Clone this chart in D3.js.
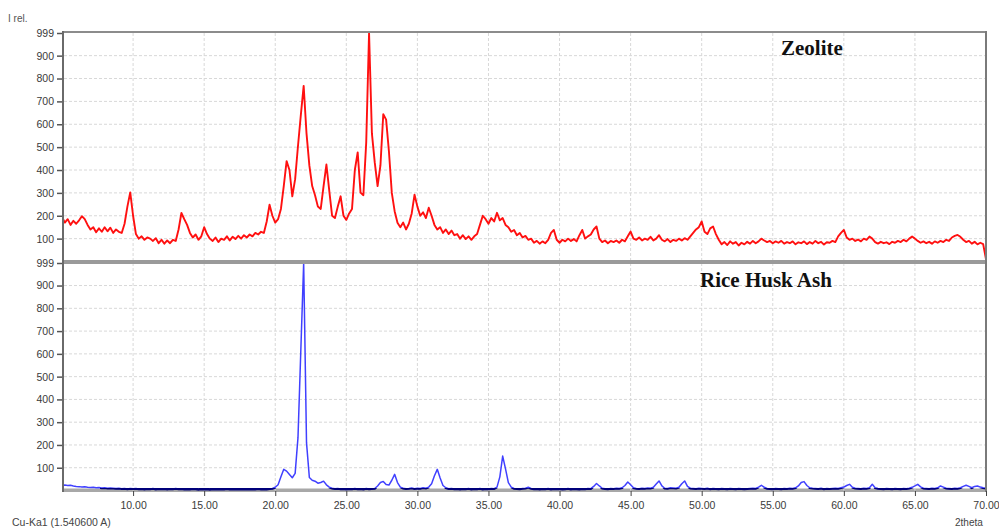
<!DOCTYPE html>
<html>
<head>
<meta charset="utf-8">
<script src="https://d3js.org/d3.v7.min.js"></script>
<style>
  body { margin: 0; background: #fff; }
  svg text { font-family: "Liberation Sans", Arial, sans-serif; }
</style>
</head>
<body>
<svg id="chart" width="999" height="528"></svg>
<script>
// 2theta grid of both scans: start, step (degrees)
var thetaStart = 5.0
var thetaStep = 0.2

// Zeolite, I rel. (one row per degree: N.0 N.2 N.4 N.6 N.8)
var zeolite = [
  195,170,185,160,178,   // 5
  165,180,198,185,160,   // 6
  140,150,128,145,130,   // 7
  150,132,148,125,140,   // 8
  130,125,165,240,302,   // 9
  200,120,100,110,95,    // 10
  105,100,90,102,80,     // 11
  95,78,92,80,95,        // 12
  90,140,212,185,160,    // 13
  125,105,118,95,110,    // 14
  150,120,100,90,105,    // 15
  85,100,95,110,92,      // 16
  108,98,112,100,115,    // 17
  105,118,110,125,118,   // 18
  130,125,175,248,200,   // 19
  170,185,230,330,439,   // 20
  400,285,360,505,640,   // 21
  768,560,420,330,290,   // 22
  240,230,330,424,310,   // 23
  200,190,240,285,200,   // 24
  182,210,230,400,477,   // 25
  301,290,520,999,560,   // 26
  433,330,420,644,620,   // 27
  480,300,220,169,150,   // 28
  170,140,165,210,292,   // 29
  240,200,215,190,235,   // 30
  200,160,140,150,125,   // 31
  140,120,135,115,120,   // 32
  100,115,98,110,95,     // 33
  110,120,160,200,185,   // 34
  165,190,175,213,180,   // 35
  190,160,150,130,138,   // 36
  115,125,105,112,95,    // 37
  100,82,90,78,88,       // 38
  80,95,125,138,95,      // 39
  82,95,88,100,90,       // 40
  98,88,115,138,100,     // 41
  110,118,140,153,100,   // 42
  85,92,80,90,85,        // 43
  92,82,95,88,110,       // 44
  131,100,95,105,92,     // 45
  100,95,108,92,100,     // 46
  115,95,88,98,85,       // 47
  95,90,100,92,102,      // 48
  95,110,125,140,150,    // 49
  175,130,120,145,153,   // 50
  120,95,75,85,72,       // 51
  88,78,85,70,82,        // 52
  75,86,78,90,80,        // 53
  88,100,92,85,90,       // 54
  80,88,82,90,78,        // 55
  85,80,88,75,84,        // 56
  80,88,76,85,78,        // 57
  90,80,86,74,84,        // 58
  82,90,85,110,125,      // 59
  138,105,95,100,90,     // 60
  96,88,100,95,109,      // 61
  100,85,78,86,80,       // 62
  84,76,86,82,90,        // 63
  85,95,88,100,109,      // 64
  100,90,82,88,80,       // 65
  86,78,88,82,90,        // 66
  85,95,90,105,112,      // 67
  116,108,95,85,90,      // 68
  78,86,75,82,76,        // 69
  10                     // 70
]

// Rice Husk Ash, I rel.
var riceHuskAsh = [
  20,24,22,23,20,        // 5
  18,17,15,16,14,        // 6
  13,14,12,13,11,        // 7
  12,10,11,10,9,         // 8
  10,8,9,7,9,            // 9
  8,9,7,8,6,             // 10
  8,7,9,6,8,             // 11
  7,8,6,8,7,             // 12
  9,7,8,6,7,             // 13
  6,8,7,5,7,             // 14
  6,7,5,7,6,             // 15
  7,5,6,8,6,             // 16
  5,7,6,5,7,             // 17
  6,5,7,6,8,             // 18
  6,7,6,8,9,             // 19
  14,25,60,93,85,        // 20
  70,56,75,232,616,      // 21
  999,210,57,45,41,      // 22
  32,35,41,25,15,        // 23
  10,8,9,7,8,            // 24
  6,8,7,9,7,             // 25
  8,6,9,7,8,             // 26
  9,20,35,40,26,         // 27
  24,45,71,35,15,        // 28
  10,8,9,11,8,           // 29
  10,9,12,10,15,         // 30
  30,65,93,55,22,        // 31
  12,8,9,7,8,            // 32
  6,8,7,9,6,             // 33
  8,7,9,6,8,             // 34
  7,9,8,15,60,           // 35
  151,95,35,15,9,        // 36
  8,7,9,10,14,           // 37
  9,7,8,6,8,             // 38
  7,9,6,8,7,             // 39
  8,6,7,9,6,             // 40
  8,7,6,8,7,             // 41
  9,8,18,31,20,          // 42
  10,8,7,9,8,            // 43
  10,9,12,22,37,         // 44
  25,12,9,8,10,          // 45
  9,11,10,14,28,         // 46
  42,20,10,9,12,         // 47
  11,10,14,30,42,        // 48
  18,10,9,8,10,          // 49
  9,8,10,7,9,            // 50
  8,7,9,8,7,             // 51
  9,8,7,9,8,             // 52
  7,8,9,10,9,            // 53
  15,23,14,9,8,          // 54
  7,9,8,7,9,             // 55
  8,10,9,12,20,          // 56
  35,39,22,12,10,        // 57
  9,8,10,7,9,            // 58
  8,9,10,9,12,           // 59
  15,22,27,14,10,        // 60
  9,8,10,9,12,           // 61
  27,12,9,8,7,           // 62
  9,8,7,9,8,             // 63
  7,9,8,10,14,           // 64
  20,27,16,10,9,         // 65
  8,10,9,12,20,          // 66
  15,10,9,8,10,          // 67
  9,12,18,23,18,         // 68
  12,18,20,15,12,        // 69
  10                     // 70
]

var xTicks = [10, 15, 20, 25, 30, 35, 40, 45, 50, 55, 60, 65, 70]
var yTicks = [100, 200, 300, 400, 500, 600, 700, 800, 900]
var yMax = 999

var svg = d3.select('#chart')

var x = d3.scaleLinear().domain([5.07, 70]).range([63, 986])
var yTop = d3.scaleLinear().domain([0, yMax]).range([261.5, 33])
var yBot = d3.scaleLinear().domain([0, yMax]).range([490.5, 263])

function toPoints(values) {
  return values.map(function(v, i) {
    return { t: thetaStart + i * thetaStep, v: v }
  })
}

// x axis of the bottom panel (grey band), under the scan
svg.append('rect')
  .attr('x', 63).attr('y', 488.5)
  .attr('width', 923).attr('height', 3.5)
  .attr('fill', '#a8a8a8')

function drawPanel(y, id) {
  var g = svg.append('g')

  // dashed grid
  g.selectAll('line.hgrid')
    .data(yTicks)
    .enter()
    .append('line')
    .attr('x1', 64).attr('x2', 985)
    .attr('y1', function(d) { return y(d) })
    .attr('y2', function(d) { return y(d) })
    .attr('stroke', '#d8d8d8')
    .attr('stroke-dasharray', '3,2')

  g.selectAll('line.vgrid')
    .data(xTicks.slice(0, -1))
    .enter()
    .append('line')
    .attr('x1', function(d) { return x(d) })
    .attr('x2', function(d) { return x(d) })
    .attr('y1', y(yMax)).attr('y2', y(0))
    .attr('stroke', '#d8d8d8')
    .attr('stroke-dasharray', '3,2')

  // y axis
  var axis = d3.axisLeft(y)
    .tickValues(yTicks.concat([yMax]))
    .tickSize(6)
    .tickPadding(3)
    .tickFormat(d3.format('d'))
  var ag = g.append('g')
    .attr('transform', 'translate(63,0)')
    .call(axis)
  ag.select('.domain').remove()
  ag.selectAll('line').attr('stroke', '#555').attr('stroke-width', 1.5)
  ag.selectAll('text')
    .attr('fill', '#3a3a3a')
    .style('font-size', '10.5px')
    .style('font-family', '"Liberation Sans", Arial, sans-serif')

  svg.append('clipPath').attr('id', id)
    .append('rect')
    .attr('x', 63).attr('y', y(yMax) - 2)
    .attr('width', 923).attr('height', y(0) - y(yMax) + 2)
  return g
}

var gTop = drawPanel(yTop, 'clipTop')
var gBot = drawPanel(yBot, 'clipBot')

var line = function(y) {
  return d3.line()
    .x(function(d) { return x(d.t) })
    .y(function(d) { return y(d.v) })
}

gTop.append('path')
  .datum(toPoints(zeolite))
  .attr('clip-path', 'url(#clipTop)')
  .attr('d', line(yTop))
  .attr('fill', 'none')
  .attr('stroke', '#ff1010')
  .attr('stroke-width', 1.9)
  .attr('stroke-linejoin', 'round')

gBot.append('path')
  .datum(toPoints(riceHuskAsh))
  .attr('clip-path', 'url(#clipBot)')
  .attr('d', line(yBot))
  .attr('fill', 'none')
  .attr('stroke', '#4040ff')
  .attr('stroke-width', 1.5)
  .attr('stroke-linejoin', 'round')

// dark baseline where the scan sits on the axis
svg.append('clipPath').attr('id', 'clipBase')
  .append('rect')
  .attr('x', 100).attr('y', yBot(11))
  .attr('width', 886).attr('height', 10)
gBot.append('path')
  .datum(toPoints(riceHuskAsh))
  .attr('clip-path', 'url(#clipBase)')
  .attr('d', line(yBot))
  .attr('fill', 'none')
  .attr('stroke', '#00007a')
  .attr('stroke-width', 2.5)

// frame
svg.append('line')
  .attr('x1', 63).attr('x2', 987).attr('y1', 32).attr('y2', 32)
  .attr('stroke', '#8c8c8c').attr('stroke-width', 2)
svg.append('rect')
  .attr('x', 63).attr('y', 260)
  .attr('width', 923).attr('height', 4)
  .attr('fill', '#9a9a9a')
svg.append('line')
  .attr('x1', 63).attr('x2', 63).attr('y1', 31).attr('y2', 492)
  .attr('stroke', '#6a6a6a').attr('stroke-width', 2)
svg.append('line')
  .attr('x1', 986).attr('x2', 986).attr('y1', 31).attr('y2', 492)
  .attr('stroke', '#7a7a7a').attr('stroke-width', 2)

// x axis ticks and labels
var xAxis = d3.axisBottom(x)
  .tickValues(xTicks)
  .tickSize(5)
  .tickPadding(6)
  .tickFormat(d3.format('.2f'))
var xg = svg.append('g')
  .attr('transform', 'translate(0,491)')
  .call(xAxis)
xg.select('.domain').remove()
xg.selectAll('line').attr('stroke', '#444')
xg.selectAll('text')
  .attr('fill', '#3a3a3a')
  .style('font-size', '10.5px')
  .style('font-family', '"Liberation Sans", Arial, sans-serif')

// labels
svg.append('text')
  .attr('x', 8).attr('y', 22)
  .attr('fill', '#555')
  .style('font-size', '10px')
  .text('I rel.')

svg.append('text')
  .attr('x', 12).attr('y', 526)
  .attr('fill', '#444')
  .style('font-size', '10.5px')
  .text('Cu-Ka1 (1.540600 A)')

svg.append('text')
  .attr('x', 955).attr('y', 526)
  .attr('fill', '#444')
  .style('font-size', '10px')
  .text('2theta')

svg.append('text')
  .attr('x', 781).attr('y', 55)
  .attr('fill', '#111')
  .style('font-family', '"Liberation Serif", "Times New Roman", serif')
  .style('font-weight', 'bold')
  .style('font-size', '21px')
  .text('Zeolite')

svg.append('text')
  .attr('x', 700).attr('y', 287)
  .attr('fill', '#111')
  .style('font-family', '"Liberation Serif", "Times New Roman", serif')
  .style('font-weight', 'bold')
  .style('font-size', '21px')
  .text('Rice Husk Ash')
</script>
</body>
</html>
